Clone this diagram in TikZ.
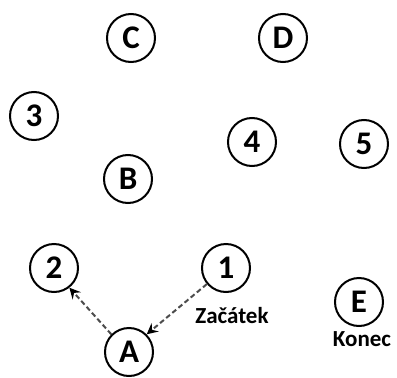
\documentclass[tikz,border=0pt]{standalone}
\usepackage{fontspec}
\setmainfont{Carlito}
\usetikzlibrary{arrows.meta,positioning}

\begin{document}
\begin{tikzpicture} [x=1pt,y=-1pt,{place/.style={circle,draw=black,line width=2pt,minimum size=48pt,inner sep=0pt,font=\fontsize{33}{33}\selectfont\bfseries}},{tag/.style={font=\fontsize{23}{23}\selectfont\bfseries}},{linest/.style={color=black!70,line width=2pt,dash pattern=on 5pt off 3pt,-{Stealth[length=11pt,width=11pt,inset=4pt,black]}}}]
		\useasboundingbox (0,0) rectangle (397,378);
		%%letter Nodes
		\node at (131,38) [place] (C) {C};
		\node at (283,38) [place] (D) {D};
		\node at (128,179) [place] (B) {B};
		\node at (129,352) [place] (A) {A};
		\node at (359,302) [place] (E) {E};
		%%number Nodes
		\node at (226,268) [place] (1) {1};
		\node at (54,268) [place] (2) {2};
		\node at (34,116) [place] (3) {3};
		\node at (252,142) [place] (4) {4};
		\node at (364,144) [place] (5) {5};

		%%labels
		\node at (232,316) [tag] (start) {Začátek};
		\node at (362,339) [tag] (end) {Konec};

		%%path
		\draw [linest] (1.220) -- (A.45);
		\draw [linest] (A.135) -- (2.-52);
	\end{tikzpicture}
\end{document}
